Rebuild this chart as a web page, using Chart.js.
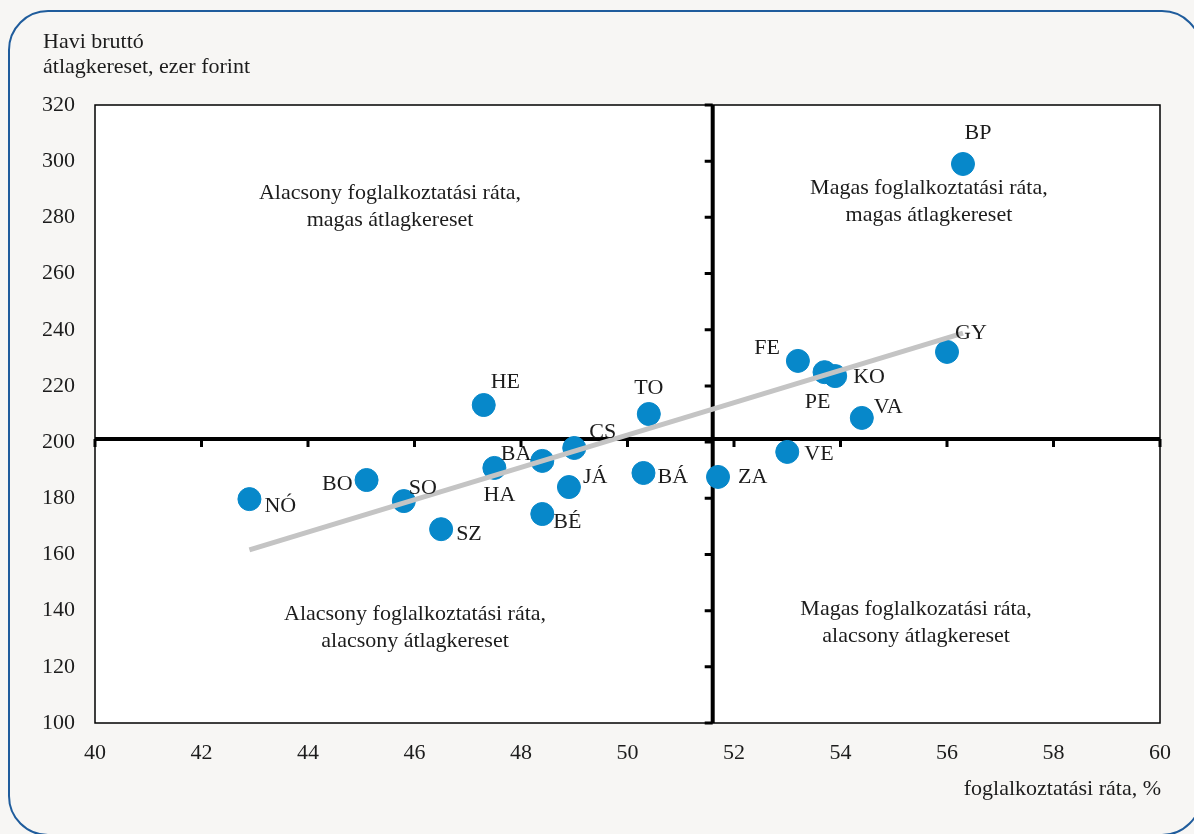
<!DOCTYPE html>
<html>
<head>
<meta charset="utf-8">
<script src="https://cdn.jsdelivr.net/npm/chart.js@4.4.1/dist/chart.umd.min.js"></script>
<style>
    html, body { margin: 0; padding: 0; background: #f7f6f4; overflow: hidden; }
    #wrap { position: relative; width: 1194px; height: 834px; overflow: hidden; }
    #frame {
        position: absolute; left: 8px; top: 10px; width: 1194px; height: 826px;
        border: 2px solid #1f5c9c; border-radius: 40px; box-sizing: border-box;
    }
    canvas { position: absolute; left: 0; top: 0; }
</style>
</head>
<body>
<div id="wrap">
    <div id="frame"></div>
    <canvas id="wageChart" width="1194" height="834"></canvas>
</div>
<script>
// megyék rövidítése
const regions = ['NÓ', 'BO', 'SO', 'SZ', 'HE', 'HA', 'BA', 'BÉ', 'JÁ', 'CS', 'BÁ', 'TO', 'ZA', 'VE', 'FE', 'PE', 'KO', 'VA', 'GY', 'BP'];
// foglalkoztatási ráta, %
const employmentRate = [42.9, 45.1, 45.8, 46.5, 47.3, 47.5, 48.4, 48.4, 48.9, 49.0, 50.3, 50.4, 51.7, 53.0, 53.2, 53.7, 53.9, 54.4, 56.0, 56.3];
// havi bruttó átlagkereset, ezer forint
const avgWage = [179.7, 186.5, 179.0, 169.0, 213.2, 190.8, 193.3, 174.4, 184.0, 197.9, 189.0, 210.0, 187.6, 196.5, 228.9, 224.9, 223.5, 208.6, 232.1, 299.0];
// trendvonal végpontjai
const trendX = [42.9, 56.3];
const trendY = [161.6, 238.8];
// kvadránsok határa
const dividerX = 51.6;
const dividerY = 201.1;
// kvadráns feliratok
const quadrantTexts = [
    ['Alacsony foglalkoztatási ráta,', 'magas átlagkereset'],
    ['Magas foglalkoztatási ráta,', 'magas átlagkereset'],
    ['Alacsony foglalkoztatási ráta,', 'alacsony átlagkereset'],
    ['Magas foglalkozatási ráta,', 'alacsony átlagkereset']
];
const quadrantX = [45.54, 55.66, 46.01, 55.42];
const quadrantY = [288.7, 290.5, 138.8, 140.6];

// címkék elhelyezése: [igazítás, dx, dy]
const labelPlacement = [
    ['left', 15, 7], ['right', -14, 4], ['left', 5, -13], ['left', 15, 5],
    ['left', 7, -23], ['center', 5, 27], ['right', -11, -7], ['left', 11, 8],
    ['left', 14, -10], ['left', 15, -16], ['left', 14, 4], ['center', 0, -26],
    ['left', 20, 0], ['left', 17, 2], ['right', -18, -13], ['center', -7, 30],
    ['left', 18, 1], ['left', 12, -11], ['left', 8, -19], ['center', 15, -31]
];

const fontFamily = '"Liberation Serif", "DejaVu Serif", serif';
const textColor = '#1c1c1c';

const quadrantPlugin = {
    id: 'quadrants',
    beforeDatasetsDraw(chart) {
        const { ctx, chartArea: a, scales: { x, y } } = chart;
        ctx.save();
        // plot terület
        ctx.fillStyle = '#ffffff';
        ctx.fillRect(a.left, a.top, a.right - a.left, a.bottom - a.top);
        ctx.strokeStyle = '#000000';
        ctx.lineWidth = 1.5;
        ctx.strokeRect(a.left, a.top, a.right - a.left, a.bottom - a.top);

        // feliratok
        ctx.fillStyle = textColor;
        ctx.font = '22px ' + fontFamily;
        ctx.textAlign = 'center';
        ctx.textBaseline = 'middle';
        quadrantTexts.forEach(function(lines, i) {
            const px = x.getPixelForValue(quadrantX[i]);
            const py = y.getPixelForValue(quadrantY[i]);
            lines.forEach(function(line, j) {
                ctx.fillText(line, px, py + j * 27);
            });
        });

        // határvonalak
        const vx = x.getPixelForValue(dividerX);
        const hy = y.getPixelForValue(dividerY);
        ctx.strokeStyle = '#000000';
        ctx.lineWidth = 4;
        ctx.beginPath();
        ctx.moveTo(vx, a.top);
        ctx.lineTo(vx, a.bottom);
        ctx.moveTo(a.left, hy);
        ctx.lineTo(a.right, hy);
        ctx.stroke();

        // osztások a határvonalakon
        ctx.lineWidth = 3;
        ctx.beginPath();
        y.ticks.forEach(function(t) {
            const ty = y.getPixelForValue(t.value);
            ctx.moveTo(vx - 8, ty);
            ctx.lineTo(vx, ty);
        });
        x.ticks.forEach(function(t) {
            const tx = x.getPixelForValue(t.value);
            ctx.moveTo(tx, hy);
            ctx.lineTo(tx, hy + 8);
        });
        ctx.stroke();
        ctx.restore();
    },
    afterDatasetsDraw(chart) {
        const { ctx } = chart;
        const meta = chart.getDatasetMeta(1);
        ctx.save();
        ctx.fillStyle = textColor;
        ctx.font = '22px ' + fontFamily;
        ctx.textBaseline = 'middle';
        meta.data.forEach(function(pt, i) {
            const p = labelPlacement[i];
            ctx.textAlign = p[0];
            ctx.fillText(regions[i], pt.x + p[1], pt.y + p[2]);
        });
        ctx.restore();
    },
    afterDraw(chart) {
        const { ctx, chartArea: a } = chart;
        ctx.save();
        ctx.fillStyle = textColor;
        ctx.font = '22px ' + fontFamily;
        ctx.textBaseline = 'alphabetic';
        ctx.textAlign = 'left';
        ctx.fillText('Havi bruttó', 43, 48);
        ctx.fillText('átlagkereset, ezer forint', 43, 73);
        ctx.textAlign = 'right';
        ctx.fillText('foglalkoztatási ráta, %', a.right + 1, 795);
        ctx.restore();
    }
};

const ctx = document.getElementById('wageChart').getContext('2d');

new Chart(ctx, {
    type: 'scatter',
    data: {
        datasets: [
            {
                label: 'trend',
                data: trendX.map((v, i) => ({ x: v, y: trendY[i] })),
                showLine: true,
                borderColor: '#c4c4c4',
                borderWidth: 5,
                pointRadius: 0,
                order: 0
            },
            {
                label: 'megyék',
                data: employmentRate.map((v, i) => ({ x: v, y: avgWage[i] })),
                backgroundColor: '#0788ca',
                borderColor: '#0788ca',
                pointRadius: 11.5,
                pointHoverRadius: 11.5,
                order: 1
            }
        ]
    },
    options: {
        responsive: false,
        animation: false,
        devicePixelRatio: 1,
        layout: { padding: { top: 105, right: 34, left: 0, bottom: 0 } },
        plugins: {
            legend: { display: false },
            tooltip: { enabled: false }
        },
        scales: {
            x: {
                type: 'linear',
                min: 40,
                max: 60,
                grid: { display: false, drawTicks: false },
                border: { display: false },
                ticks: {
                    stepSize: 2,
                    padding: 17,
                    color: textColor,
                    font: { family: fontFamily, size: 22 }
                },
                afterFit(scale) { scale.height = 111; }
            },
            y: {
                min: 100,
                max: 320,
                grid: { display: false, drawTicks: false },
                border: { display: false },
                ticks: {
                    stepSize: 20,
                    padding: 20,
                    color: textColor,
                    font: { family: fontFamily, size: 22 }
                },
                afterFit(scale) { scale.width = 95; }
            }
        }
    },
    plugins: [quadrantPlugin]
});
</script>
</body>
</html>
